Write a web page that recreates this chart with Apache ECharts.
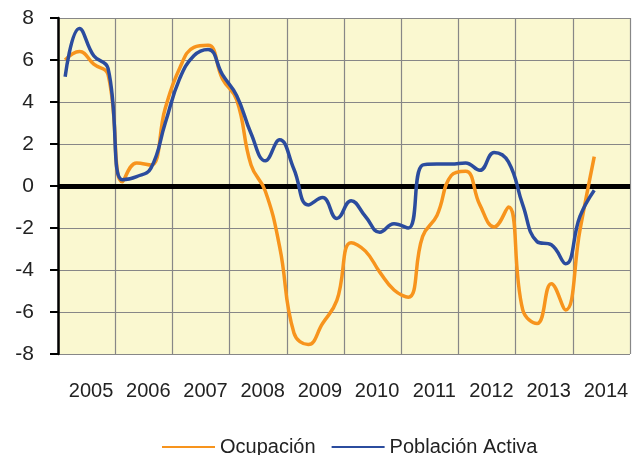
<!DOCTYPE html>
<html>
<head>
<meta charset="utf-8">
<script src="https://cdn.jsdelivr.net/npm/echarts@6/dist/echarts.min.js"></script>
<style>html,body{margin:0;padding:0;background:#fff;}#c{width:638px;height:455px;}</style>
</head>
<body>
<div id="c"></div>
<script>
var years = ['2005','2006','2007','2008','2009','2010','2011','2012','2013','2014'];
var yTicks = [-8,-6,-4,-2,0,2,4,6,8];
// quarterly values (Q1 2005 .. Q2 2014)
var ocupacion = [
  6.0, 6.4, 5.8, 5.3,
  0.2, 1.1, 1.0, 3.7,
  5.6, 6.6, 6.7, 5.1,
  4.1, 1.0, -0.25, -2.9,
  -7.0, -7.55, -6.55, -5.45,
  -2.7, -3.1, -4.1, -4.95,
  -5.3, -2.4, -1.4, 0.5,
  0.7, -0.9, -1.95, -1.0,
  -5.9, -6.55, -4.65, -5.9,
  -2.1, 1.4
];
var poblacionActiva = [
  5.2, 7.5, 6.2, 5.6,
  0.3, 0.45, 0.85, 3.0,
  5.1, 6.2, 6.5, 5.3,
  4.3, 2.5, 1.2, 2.2,
  0.8, -0.9, -0.55, -1.55,
  -0.7, -1.45, -2.2, -1.8,
  -2.0, 1.0, 1.05, 1.05,
  1.1, 0.75, 1.6, 1.15,
  -0.9, -2.65, -2.8, -3.7,
  -1.45, -0.2
];
function toXY(arr){
  return arr.map(function(v,i){ return [2005 + 0.125 + 0.25*i, v]; });
}
var chart = echarts.init(document.getElementById('c'), null, {renderer:'canvas'});
var font = 'Liberation Sans, Arial, sans-serif';
chart.setOption({
  animation:false,
  backgroundColor:'#ffffff',
  grid:{left:58,right:8,top:18,bottom:101,show:true,backgroundColor:'#FAF8D0',borderWidth:0},
  legend:{
    data:['Ocupación','Población Activa'],
    left:157, top:432,
    icon:'rect', itemWidth:53, itemHeight:2, itemGap:16,
    textStyle:{fontFamily:font,fontSize:20,color:'#222'}
  },
  xAxis:[
    {type:'category',data:years,boundaryGap:true,position:'bottom',
     axisLine:{show:false},axisTick:{show:false},splitLine:{show:false},
     axisLabel:{interval:0,fontFamily:font,fontSize:20,color:'#222',margin:27,padding:[0,0,0,9]}},
    {type:'value',min:2005,max:2015,interval:1,position:'bottom',
     axisLine:{show:false},axisTick:{show:false},axisLabel:{show:false},
     splitLine:{show:true,lineStyle:{color:'#878787',width:1.2}}}
  ],
  yAxis:{type:'value',min:-8,max:8,interval:2,
    axisLine:{show:true,onZero:false,lineStyle:{color:'#000',width:2.5}},
    axisTick:{show:true,inside:false,length:8,lineStyle:{color:'#000',width:2}},
    axisLabel:{fontFamily:font,fontSize:21,color:'#222',margin:24},
    splitLine:{show:true,lineStyle:{color:'#878787',width:1.2}}},
  series:[
    {name:'Ocupación',type:'line',xAxisIndex:1,data:toXY(ocupacion),smooth:0.45,
     showSymbol:false,symbol:'none',lineStyle:{color:'#F7941D',width:3.5},itemStyle:{color:'#F7941D'},z:3,
     markLine:{silent:true,symbol:'none',label:{show:false},
       lineStyle:{color:'#000',width:5,type:'solid'},data:[{yAxis:0}],z:2}},
    {name:'Población Activa',type:'line',xAxisIndex:1,data:toXY(poblacionActiva),smooth:0.45,
     showSymbol:false,symbol:'none',lineStyle:{color:'#2B4C9E',width:3.5},itemStyle:{color:'#2B4C9E'},z:4}
  ]
});
</script>
</body>
</html>
